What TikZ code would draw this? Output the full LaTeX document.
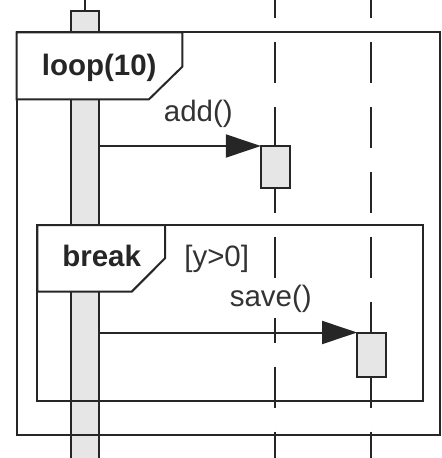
\documentclass[tikz,border=0pt]{standalone}
\usepackage{fontspec}
\setmainfont{Liberation Sans}
\usetikzlibrary{arrows.meta}
\definecolor{ink}{HTML}{262626}
\definecolor{barfill}{HTML}{E6E6E6}
\definecolor{txt}{HTML}{333333}
\begin{document}
\begin{tikzpicture}[x=1bp,y=-1bp,
  lifeline/.style={draw=ink, line width=2bp, dash pattern=on 41.6bp off 23.4bp, dash phase=23.3bp},
  actbox/.style={draw=ink, fill=barfill, line width=2bp, inner sep=0pt, outer sep=0pt},
  framebox/.style={draw=ink, line width=2bp},
  tagbox/.style={draw=ink, fill=white, line width=2bp, line join=miter},
  msg/.style={draw=ink, line width=2bp, -{Triangle[length=35bp,width=23bp]}},
  lbl/.style={font=\fontsize{29.5bp}{35bp}\selectfont, text=txt, inner sep=0pt, anchor=base},
  blbl/.style={font=\fontsize{29.5bp}{35bp}\selectfont\bfseries, text=ink, inner sep=0pt, anchor=base}]
\useasboundingbox (0,0) rectangle (442,458);

% lifelines
\coordinate (L1t) at (85,0);      \coordinate (L1b) at (85,458);
\coordinate (L2t) at (275.3,0);   \coordinate (L2b) at (275.3,458);
\coordinate (L3t) at (371.3,0);   \coordinate (L3b) at (371.3,458);
\draw[lifeline] (L1t) -- (L1b);
\draw[lifeline] (L2t) -- (L2b);
\draw[lifeline] (L3t) -- (L3b);

% activation bar of the first lifeline
\node[actbox, minimum width=28.6bp, minimum height=449bp] (bar1) at (85,235.5) {};

% loop fragment
\draw[framebox] (16.7,32.3) rectangle (440,434.7);
\draw[tagbox] (16.7,32.3) -- (182.3,32.3) -- (182.3,66.7) -- (149,99.3) -- (16.7,99.3) -- cycle;
\node[blbl] (looplbl) at (99.2,76) {loop(10)};

% break fragment
\draw[framebox] (37.3,225) rectangle (423,401.3);
\draw[tagbox] (37.3,225) -- (165,225) -- (165,258.3) -- (131.7,291.7) -- (37.3,291.7) -- cycle;
\node[blbl] (breaklbl) at (101.7,266.7) {break};
\node[lbl] (guard) at (216.7,266.7) {[y>0]};

% activation boxes
\node[actbox, minimum width=29bp, minimum height=42bp] (a2) at (275.3,167) {};
\node[actbox, minimum width=28.5bp, minimum height=44bp] (a3) at (371.3,354.5) {};

% messages
\draw[msg] (a2.north west -| bar1.east) -- (a2.north west);
\draw[msg] (a3.north west -| bar1.east) -- (a3.north west);
\node[lbl] (addlbl) at (198.3,121.7) {add()};
\node[lbl, fill=white, inner ysep=5bp, inner xsep=1bp] (savelbl) at (270.8,306.7) {save()};
\end{tikzpicture}
\end{document}
